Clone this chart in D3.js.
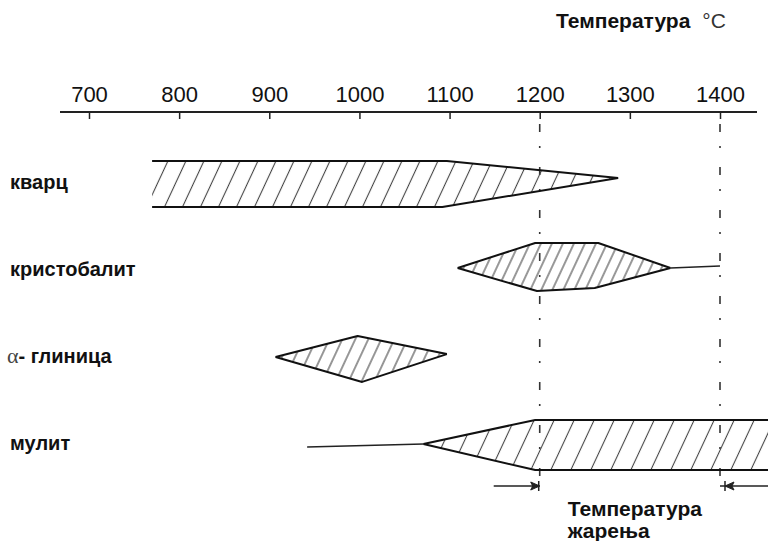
<!DOCTYPE html>
<html>
<head>
<meta charset="utf-8">
<script src="https://cdn.jsdelivr.net/npm/d3@7"></script>
<style>
  body { margin: 0; background: #fff; }
  svg { display: block; }
  text { font-family: Arial, "Liberation Sans", sans-serif; fill: #111; }
</style>
</head>
<body>
<svg id="chart" width="768" height="541"></svg>
<script>
// temperature ticks (°C)
const ticks = [700, 800, 900, 1000, 1100, 1200, 1300, 1400];
const phaseNames = ["кварц", "кристобалит", "α- глиница", "мулит"];
// annealing temperature range
const annealRange = [1200, 1400];

// band outlines: [temperature °C, relative thickness] (+ up / - down)
const quartzUpper = [[770, 100], [1097, 100], [1287, 26]];
const quartzLower = [[770, -100], [1092, -100], [1287, 26]];
const cristUpper = [[1109, 13], [1195, 122], [1265, 122], [1345, 13]];
const cristLower = [[1109, 13], [1197, -87], [1261, -74], [1345, 13]];
const cristTail = [[1345, 13], [1400, 22]];
const aluminaUpper = [[907, 4], [998, 96], [1097, 17]];
const aluminaLower = [[907, 4], [1003, -104], [1097, 17]];
const mulliteUpper = [[1071, 4], [1195, 109], [1460, 109]];
const mulliteLower = [[1071, 4], [1195, -109], [1460, -109]];
const mulliteTail = [[942, -9], [1071, 4]];

const phases = [
  {name: phaseNames[0], upper: quartzUpper, lower: quartzLower, tail: null, hatch: 18},
  {name: phaseNames[1], upper: cristUpper, lower: cristLower, tail: cristTail, hatch: 11},
  {name: phaseNames[2], upper: aluminaUpper, lower: aluminaLower, tail: null, hatch: 13},
  {name: phaseNames[3], upper: mulliteUpper, lower: mulliteLower, tail: mulliteTail, hatch: 20}
];

const svg = d3.select("#chart");
const width = 768, height = 541;

const x = d3.scaleLinear().domain([700, 1400]).range([89, 720]);
const rowY = d3.scalePoint().domain(phaseNames).range([184, 445]);
const off = d3.scaleLinear().domain([-100, 100]).range([23, -23]);

svg.append("rect").attr("width", width).attr("height", height).attr("fill", "#fff");

// hatch patterns
const defs = svg.append("defs");
phases.forEach((p, i) => {
  const s = p.hatch * Math.cos(25 * Math.PI / 180);
  const pat = defs.append("pattern")
    .attr("id", "hatch" + i)
    .attr("patternUnits", "userSpaceOnUse")
    .attr("width", s).attr("height", 10)
    .attr("patternTransform", "rotate(25)");
  pat.append("line")
    .attr("x1", s / 2).attr("x2", s / 2)
    .attr("y1", 0).attr("y2", 10)
    .attr("stroke", "#444").attr("stroke-width", 1.1);
});

// title
const title = svg.append("text").attr("x", 556).attr("y", 28);
title.append("tspan").attr("font-weight", "bold").attr("font-size", 21).text("Температура");
title.append("tspan").attr("font-size", 21).attr("dx", 12).attr("fill", "#333").text("°C");

// axis
svg.append("line")
  .attr("x1", 60).attr("x2", 757)
  .attr("y1", 112).attr("y2", 112)
  .attr("stroke", "#222").attr("stroke-width", 2);

const axis = svg.append("g")
  .attr("transform", "translate(0,112)")
  .call(d3.axisTop(x).tickValues(ticks).tickFormat(d3.format("d"))
    .tickSize(-7).tickSizeOuter(0).tickPadding(10));
axis.select(".domain").remove();
axis.selectAll(".tick line").attr("stroke", "#222").attr("stroke-width", 1.5);
axis.selectAll(".tick text")
  .attr("font-family", "Arial, 'Liberation Sans', sans-serif")
  .attr("font-size", 22).attr("fill", "#333");

// annealing dashed lines
svg.append("g").selectAll("line")
  .data(annealRange)
  .join("line")
    .attr("x1", d => x(d)).attr("x2", d => x(d))
    .attr("y1", 124).attr("y2", 480)
    .attr("stroke", "#333").attr("stroke-width", 1.6)
    .attr("stroke-dasharray", "8 14 2 19");

// bands
const area = d => {
  const cy = rowY(d.name);
  const pts = d.upper.concat(d.lower.slice().reverse());
  return d3.line().x(p => x(p[0])).y(p => cy + off(p[1]))(pts) + "Z";
};
const lineOf = (pts, cy) => d3.line().x(p => x(p[0])).y(p => cy + off(p[1]))(pts);

const bands = svg.append("g").selectAll("g")
  .data(phases)
  .join("g");

bands.append("path")
  .attr("d", area)
  .attr("fill", (d, i) => `url(#hatch${i})`)
  .attr("stroke", "none");

bands.each(function (d) {
  const g = d3.select(this);
  const cy = rowY(d.name);
  [d.upper, d.lower].forEach(pts => {
    g.append("path")
      .attr("d", lineOf(pts, cy))
      .attr("fill", "none")
      .attr("stroke", "#111")
      .attr("stroke-width", 2)
      .attr("stroke-linejoin", "round");
  });
  if (d.tail) {
    g.append("path")
      .attr("d", lineOf(d.tail, cy))
      .attr("fill", "none")
      .attr("stroke", "#222")
      .attr("stroke-width", 1.5);
  }
});

// row labels
const labels = svg.append("g").selectAll("text")
  .data(phaseNames)
  .join("text")
    .attr("x", d => d.startsWith("α") ? 7 : 10)
    .attr("y", d => rowY(d) + 5)
    .attr("font-size", 20)
    .attr("font-weight", "bold");
labels.each(function (d) {
  const t = d3.select(this);
  if (d.startsWith("α")) {
    t.append("tspan")
      .attr("font-family", "'Liberation Serif', 'DejaVu Serif', serif")
      .attr("font-weight", "normal")
      .attr("font-size", 22)
      .attr("fill", "#444")
      .text("α");
    t.append("tspan").text(d.slice(1));
  } else {
    t.text(d);
  }
});

// annealing arrows
const ay = 486;
const arrows = svg.append("g").attr("stroke", "#222").attr("fill", "#222");
arrows.append("line")
  .attr("x1", x(annealRange[0]) - 46).attr("x2", x(annealRange[0]))
  .attr("y1", ay).attr("y2", ay).attr("stroke-width", 1.5);
arrows.append("path")
  .attr("d", `M${x(annealRange[0])},${ay}l-9,-4l2,4l-2,4z`);
arrows.append("line")
  .attr("x1", x(annealRange[0]) - 1).attr("x2", x(annealRange[0]) - 1)
  .attr("y1", ay - 5).attr("y2", ay + 5).attr("stroke-width", 1.5);

arrows.append("line")
  .attr("x1", x(annealRange[1])).attr("x2", width)
  .attr("y1", ay).attr("y2", ay).attr("stroke-width", 1.5);
arrows.append("path")
  .attr("d", `M${x(annealRange[1]) + 5},${ay}l9,-4l-2,4l2,4z`);
arrows.append("line")
  .attr("x1", x(annealRange[1]) + 5).attr("x2", x(annealRange[1]) + 5)
  .attr("y1", ay - 5).attr("y2", ay + 5).attr("stroke-width", 1.5);

// annotation
const note = svg.append("text")
  .attr("x", x(annealRange[0]) + 28).attr("y", 516)
  .attr("font-size", 21).attr("font-weight", "bold");
note.append("tspan").text("Температура");
note.append("tspan").attr("x", x(annealRange[0]) + 28).attr("dy", 22).text("жарења");
</script>
</body>
</html>
